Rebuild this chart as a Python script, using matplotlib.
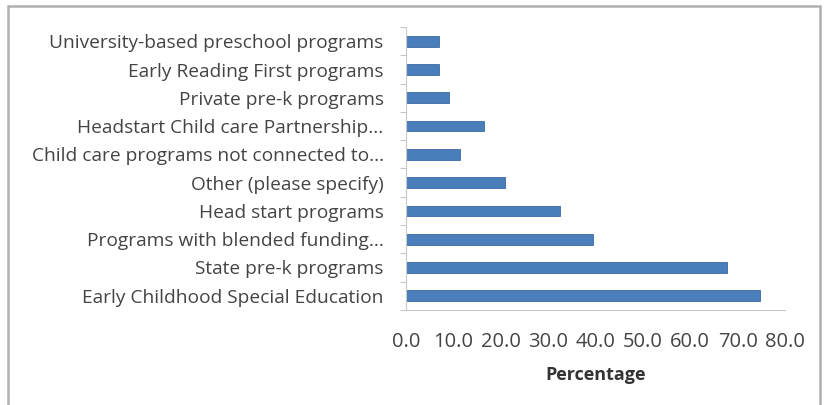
import matplotlib.pyplot as plt
import numpy as np
from matplotlib.patches import Rectangle

categories = [
    'Early Childhood Special Education',
    'State pre-k programs',
    'Programs with blended funding...',
    'Head start programs',
    'Other (please specify)',
    'Child care programs not connected to...',
    'Headstart Child care Partnership...',
    'Private pre-k programs',
    'Early Reading First programs',
    'University-based preschool programs',
]
values = [74.8, 67.8, 39.5, 32.6, 21.0, 11.5, 16.5, 9.1, 7.0, 7.0]
x_ticks = [0, 10, 20, 30, 40, 50, 60, 70, 80]

plt.rcParams['font.family'] = ['Open Sans', 'DejaVu Sans']

fig = plt.figure(figsize=(8.25, 4.05), dpi=100)
ax = fig.add_axes([0.492, 0.235, 0.4595, 0.698])

y = np.arange(len(categories))
ax.barh(y, values, height=0.38, color='#4a7ebb', edgecolor='#3a6aa3', linewidth=0.6)

ax.set_xlim(0, 80)
ax.set_ylim(-0.5, len(categories) - 0.5)
ax.set_xticks(x_ticks)
ax.set_xticklabels(['%.1f' % t for t in x_ticks], fontsize=14.5, color='#444444')
ax.set_yticks(y)
ax.set_yticklabels(categories, fontsize=13.8, color='#444444')
ax.tick_params(axis='y', length=0, pad=16)
ax.tick_params(axis='x', length=0, pad=16)

# small Excel-style ticks at category boundaries and at x ticks
ax.set_yticks(np.arange(-0.5, len(categories), 1.0), minor=True)
ax.tick_params(axis='y', which='minor', length=4, color='#c8c8c8', width=0.8)
ax.set_xticks(x_ticks, minor=True)
ax.tick_params(axis='x', which='minor', length=4, color='#c8c8c8', width=0.8)

for side in ['top', 'right']:
    ax.spines[side].set_visible(False)
for side in ['left', 'bottom']:
    ax.spines[side].set_color('#c8c8c8')
    ax.spines[side].set_linewidth(0.8)

ax.set_xlabel('Percentage', fontsize=13, fontweight='bold', color='#333333', labelpad=10)

# outer chart border
fig.patches.append(Rectangle((8 / 825, -0.02), 812 / 825, 1 - 6 / 405 + 0.02,
                             transform=fig.transFigure, fill=False,
                             edgecolor='#b0b0b0', linewidth=1.8))

fig.savefig('out.png', dpi=100)
